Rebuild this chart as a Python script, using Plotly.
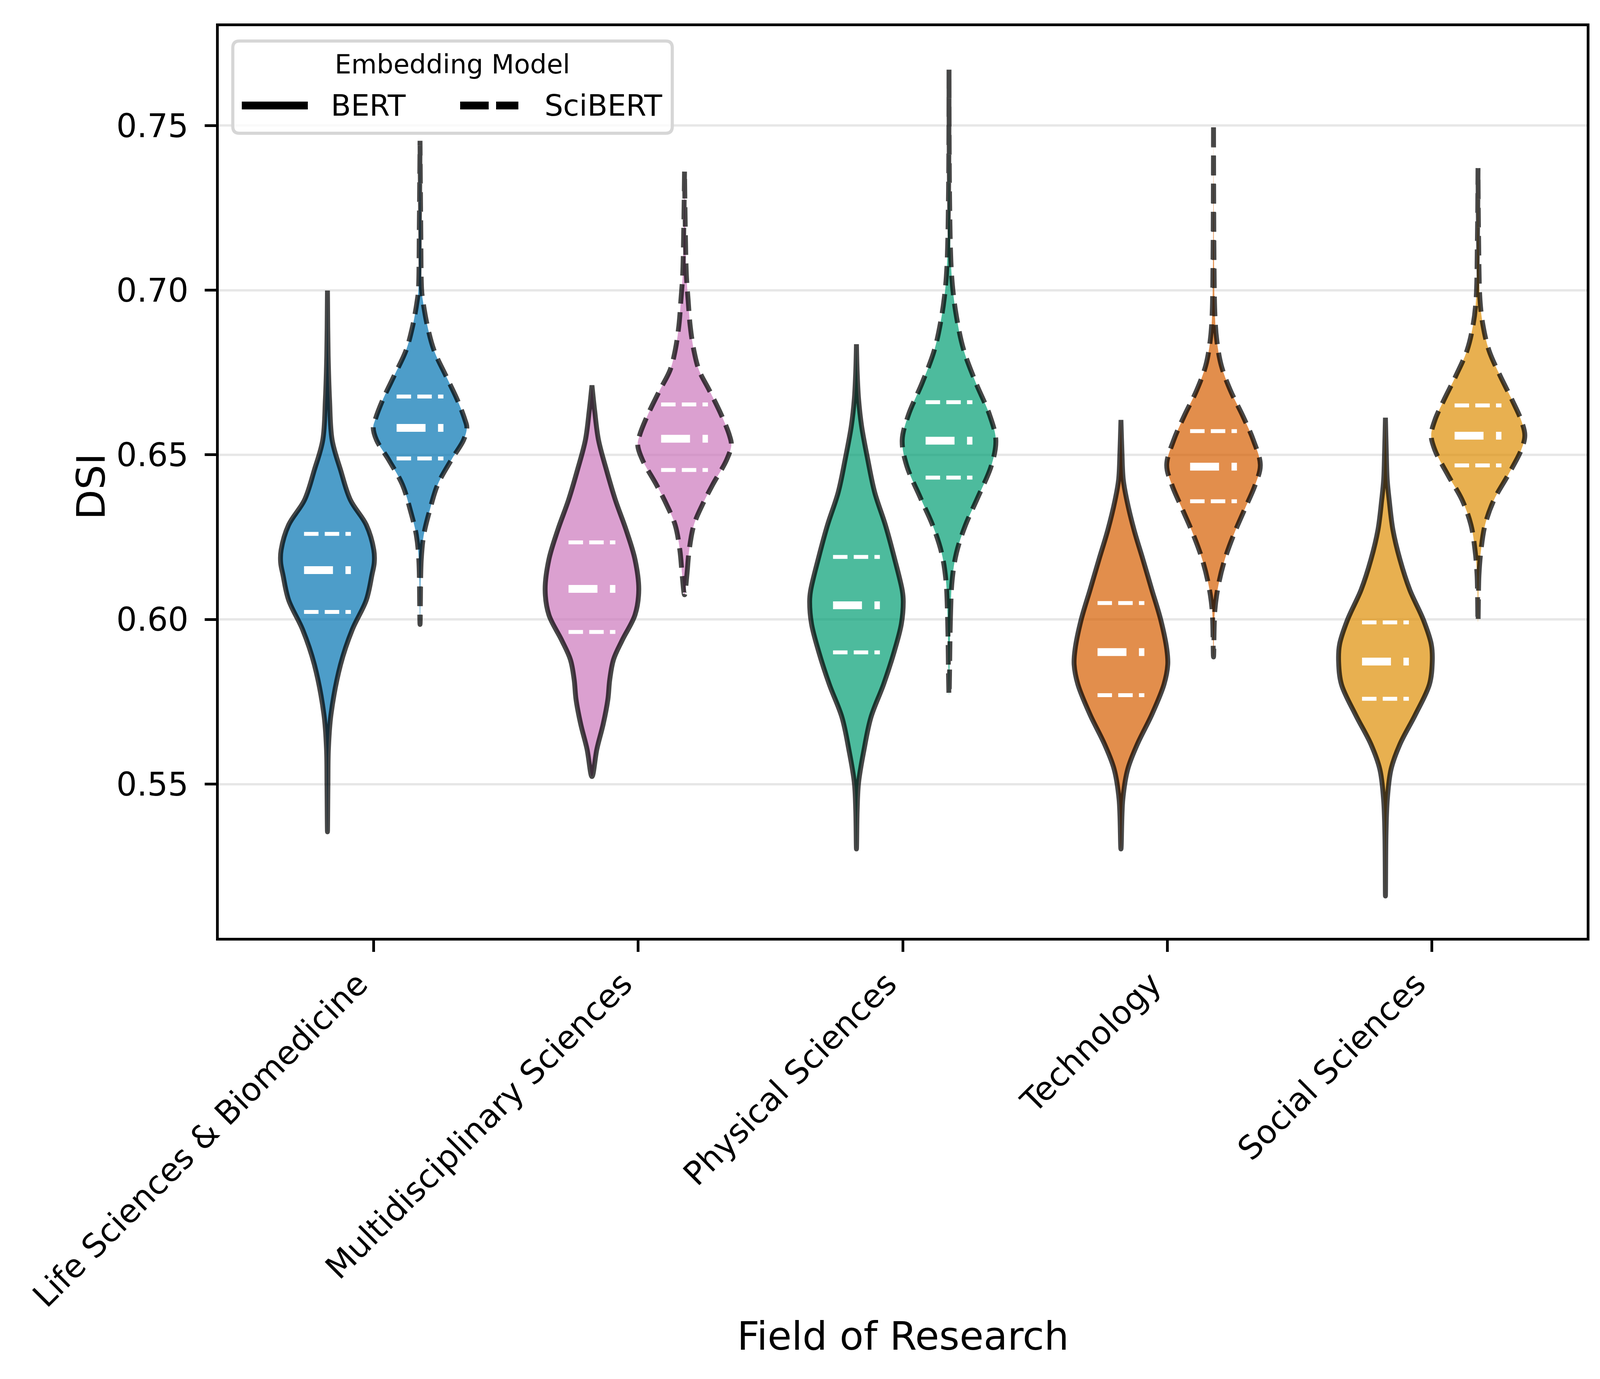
import plotly.graph_objects as go

# ---------------- data ----------------
FIELDS = ["Life Sciences & Biomedicine", "Multidisciplinary Sciences",
          "Physical Sciences", "Technology", "Social Sciences"]
MODELS = ["BERT", "SciBERT"]
Y_TICKS = [0.55, 0.60, 0.65, 0.70, 0.75]
Y_TICK_LABELS = ["0.55", "0.60", "0.65", "0.70", "0.75"]

# violin outlines: DSI levels and relative density (1 = widest point)
life_bert_y = [0.5355, 0.5500, 0.5606, 0.5711, 0.5863, 0.5969, 0.6059, 0.6135, 0.6173,
               0.6211, 0.6287, 0.6363, 0.6454, 0.6545, 0.6666, 0.6800, 0.6999]
life_bert_d = [0.0, 0.01, 0.02, 0.075, 0.28, 0.53, 0.83, 0.95, 1.0,
               0.99, 0.83, 0.49, 0.28, 0.10, 0.045, 0.015, 0.0]
life_sci_y = [0.5985, 0.6182, 0.6257, 0.6333, 0.6409, 0.6485, 0.6545, 0.6583, 0.6606,
              0.6666, 0.6741, 0.6817, 0.6893, 0.6969, 0.6999, 0.7200, 0.7454]
life_sci_d = [0.0, 0.026, 0.08, 0.21, 0.375, 0.67, 0.93, 1.0, 0.96,
              0.80, 0.55, 0.30, 0.155, 0.06, 0.035, 0.015, 0.0]

multi_bert_y = [0.5523, 0.5606, 0.5682, 0.5757, 0.5817, 0.5878, 0.5938, 0.6014, 0.6090,
                0.6182, 0.6272, 0.6363, 0.6454, 0.6545, 0.6635, 0.6711]
multi_bert_d = [0.0, 0.105, 0.24, 0.34, 0.38, 0.46, 0.65, 0.92, 1.0,
                0.92, 0.73, 0.50, 0.31, 0.14, 0.057, 0.0]
multi_sci_y = [0.6075, 0.6135, 0.6211, 0.6287, 0.6348, 0.6409, 0.6485, 0.6530, 0.6559,
               0.6620, 0.6696, 0.6757, 0.6817, 0.6893, 0.6969, 0.7045, 0.7200, 0.7362]
multi_sci_d = [0.0, 0.05, 0.10, 0.20, 0.38, 0.60, 0.90, 1.0, 0.96,
               0.79, 0.53, 0.31, 0.20, 0.12, 0.078, 0.04, 0.015, 0.0]

phys_bert_y = [0.5303, 0.5420, 0.5504, 0.5603, 0.5703, 0.5803, 0.5904, 0.5987, 0.6054,
               0.6087, 0.6187, 0.6286, 0.6386, 0.6487, 0.6587, 0.6670, 0.6753, 0.6836]
phys_bert_d = [0.0, 0.015, 0.045, 0.16, 0.31, 0.58, 0.81, 0.96, 1.0,
               0.98, 0.81, 0.62, 0.39, 0.24, 0.11, 0.045, 0.015, 0.0]
phys_sci_y = [0.5770, 0.6004, 0.6120, 0.6203, 0.6286, 0.6369, 0.6470, 0.6545, 0.6620,
              0.6720, 0.6820, 0.6919, 0.7004, 0.7087, 0.7300, 0.7670]
phys_sci_d = [0.0, 0.03, 0.067, 0.16, 0.35, 0.61, 0.91, 1.0, 0.87,
              0.57, 0.31, 0.16, 0.08, 0.04, 0.01, 0.0]

tech_bert_y = [0.5303, 0.5454, 0.5545, 0.5621, 0.5711, 0.5803, 0.5863, 0.5909, 0.5999,
               0.6090, 0.6182, 0.6272, 0.6363, 0.6424, 0.6514, 0.6606]
tech_bert_d = [0.0, 0.04, 0.145, 0.35, 0.66, 0.92, 1.0, 0.98, 0.85,
               0.66, 0.47, 0.28, 0.125, 0.05, 0.02, 0.0]
tech_sci_y = [0.5886, 0.6030, 0.6106, 0.6182, 0.6257, 0.6333, 0.6409, 0.6469, 0.6545,
              0.6620, 0.6696, 0.6772, 0.6848, 0.6924, 0.7100, 0.7507]
tech_sci_d = [0.0, 0.03, 0.107, 0.24, 0.43, 0.66, 0.89, 1.0, 0.85,
              0.62, 0.36, 0.165, 0.07, 0.03, 0.01, 0.0]

soc_bert_y = [0.5160, 0.5350, 0.5454, 0.5545, 0.5621, 0.5711, 0.5803, 0.5871, 0.5924,
              0.5999, 0.6090, 0.6182, 0.6272, 0.6363, 0.6424, 0.6514, 0.6613]
soc_bert_d = [0.0, 0.012, 0.04, 0.12, 0.31, 0.64, 0.94, 1.0, 0.98,
              0.81, 0.52, 0.31, 0.16, 0.08, 0.038, 0.017, 0.0]
soc_sci_y = [0.5992, 0.6135, 0.6211, 0.6287, 0.6363, 0.6438, 0.6514, 0.6559, 0.6606,
             0.6666, 0.6741, 0.6817, 0.6893, 0.6969, 0.7150, 0.7371]
soc_sci_d = [0.0, 0.02, 0.064, 0.15, 0.34, 0.64, 0.92, 1.0, 0.92,
             0.73, 0.47, 0.235, 0.107, 0.043, 0.013, 0.0]

# quartiles (Q1, median, Q3) per field
BERT_Q1 = [0.6023, 0.5962, 0.5900, 0.5770, 0.5759]
BERT_MED = [0.6150, 0.6093, 0.6043, 0.5901, 0.5872]
BERT_Q3 = [0.6260, 0.6234, 0.6190, 0.6050, 0.5991]
SCIBERT_Q1 = [0.6489, 0.6454, 0.6431, 0.6359, 0.6468]
SCIBERT_MED = [0.6582, 0.6549, 0.6543, 0.6464, 0.6558]
SCIBERT_Q3 = [0.6677, 0.6653, 0.6660, 0.6572, 0.6650]

# ---------------- styling ----------------
FIELD_COLORS = [(1, 115, 178), (204, 120, 188), (2, 158, 115), (213, 94, 0), (222, 143, 5)]
FILL_ALPHA = 0.7
OUTLINE = "rgba(0,0,0,0.72)"
OUTLINE_W = 12.5
OUTLINE_DASH = {"BERT": "solid", "SciBERT": "50px,22px"}
OFFSETS = {"BERT": -0.175, "SciBERT": 0.175}
HALF_W = 0.177
QUART_HALF = HALF_W / 2
FONT = "DejaVu Sans"

W, H = 4113, 3529
L, R, T, B = 552, 4054, 59, 2392   # plot area in pixels

profiles = {
    "BERT": [(life_bert_y, life_bert_d), (multi_bert_y, multi_bert_d), (phys_bert_y, phys_bert_d),
             (tech_bert_y, tech_bert_d), (soc_bert_y, soc_bert_d)],
    "SciBERT": [(life_sci_y, life_sci_d), (multi_sci_y, multi_sci_d), (phys_sci_y, phys_sci_d),
                (tech_sci_y, tech_sci_d), (soc_sci_y, soc_sci_d)],
}
quartiles = {"BERT": (BERT_Q1, BERT_MED, BERT_Q3), "SciBERT": (SCIBERT_Q1, SCIBERT_MED, SCIBERT_Q3)}

fig = go.Figure()
for fi, field in enumerate(FIELDS):
    r, g, b = FIELD_COLORS[fi]
    for model in MODELS:
        ys, ds = profiles[model][fi]
        c = fi + OFFSETS[model]
        xs = [c + HALF_W * d for d in ds] + [c - HALF_W * d for d in reversed(ds)]
        yy = list(ys) + list(reversed(ys))
        fig.add_trace(go.Scatter(
            x=xs, y=yy, mode="lines", fill="toself",
            fillcolor=f"rgba({r},{g},{b},{FILL_ALPHA})",
            line=dict(color=OUTLINE, width=OUTLINE_W, dash=OUTLINE_DASH[model],
                      shape="spline", smoothing=1.0),
            hoverinfo="skip", showlegend=False))
        q1, med, q3 = quartiles[model]
        for val, wdt, dsh in [(q1[fi], 10, "37px,16px"), (q3[fi], 10, "37px,16px"),
                              (med[fi], 20, "74px,32px")]:
            fig.add_trace(go.Scatter(
                x=[c - QUART_HALF, c + QUART_HALF], y=[val, val], mode="lines",
                line=dict(color="white", width=wdt, dash=dsh),
                hoverinfo="skip", showlegend=False))


def px_x(p):
    return (p - L) / (R - L)


def px_y(p):
    return (B - p) / (B - T)


# ---- manual legend ----
lx0, lx1, ly0, ly1, rad = 588, 1713, 97, 333, 17
rx, ry = rad / (R - L), rad / (B - T)
X0, X1, Y0, Y1 = px_x(lx0), px_x(lx1), px_y(ly1), px_y(ly0)
path = (f"M {X0+rx},{Y1} L {X1-rx},{Y1} Q {X1},{Y1} {X1},{Y1-ry} L {X1},{Y0+ry} "
        f"Q {X1},{Y0} {X1-rx},{Y0} L {X0+rx},{Y0} Q {X0},{Y0} {X0},{Y0+ry} "
        f"L {X0},{Y1-ry} Q {X0},{Y1} {X0+rx},{Y1} Z")
shapes = [dict(type="path", xref="paper", yref="paper", path=path,
               line=dict(color="#d6d6d6", width=8), fillcolor="rgba(255,255,255,0.8)")]
row_y = px_y(262)
shapes.append(dict(type="line", xref="paper", yref="paper", x0=px_x(611), x1=px_x(780),
                   y0=row_y, y1=row_y, line=dict(color="black", width=20)))
shapes.append(dict(type="line", xref="paper", yref="paper", x0=px_x(1170), x1=px_x(1319),
                   y0=row_y, y1=row_y, line=dict(color="black", width=20, dash="73px,19px")))

annotations = [
    dict(text="Embedding Model", x=px_x(1150), y=px_y(157), xref="paper", yref="paper",
         xanchor="center", yanchor="middle", showarrow=False,
         font=dict(family=FONT, size=67, color="black")),
    dict(text=MODELS[0], x=px_x(837), y=row_y, xref="paper", yref="paper",
         xanchor="left", yanchor="middle", showarrow=False,
         font=dict(family=FONT, size=75, color="black")),
    dict(text=MODELS[1], x=px_x(1384), y=row_y, xref="paper", yref="paper",
         xanchor="left", yanchor="middle", showarrow=False,
         font=dict(family=FONT, size=75, color="black")),
    dict(text="Field of Research", x=0.5, y=px_y(3411), xref="paper", yref="paper",
         xanchor="center", yanchor="middle", showarrow=False,
         font=dict(family=FONT, size=100, color="black")),
    dict(text="DSI", x=px_x(226), y=px_y(1237), xref="paper", yref="paper",
         xanchor="center", yanchor="middle", showarrow=False, textangle=-90,
         font=dict(family=FONT, size=100, color="black")),
]

fig.update_layout(
    width=W, height=H,
    margin=dict(l=L, r=W - R, t=T, b=H - B, pad=0),
    plot_bgcolor="white", paper_bgcolor="white",
    shapes=shapes, annotations=annotations, showlegend=False,
    font=dict(family=FONT, color="black"),
)
axis_common = dict(ticks="outside", ticklen=29, tickwidth=6.7, tickcolor="black",
                   showline=True, linecolor="black", linewidth=6.7, mirror=True,
                   zeroline=False, tickfont=dict(family=FONT, size=83, color="black"))
fig.update_xaxes(range=[-0.586, 4.586], tickvals=list(range(len(FIELDS))), ticktext=FIELDS,
                 tickangle=-45, showgrid=False, ticklabelstandoff=0, ticklabelshift=-40,
                 **axis_common)
fig.update_yaxes(range=[0.5033, 0.7802], tickvals=Y_TICKS, ticktext=Y_TICK_LABELS,
                 showgrid=True, gridcolor="#e7e7e7", gridwidth=6, ticklabelstandoff=25,
                 **axis_common)

fig.write_html("out.html")
